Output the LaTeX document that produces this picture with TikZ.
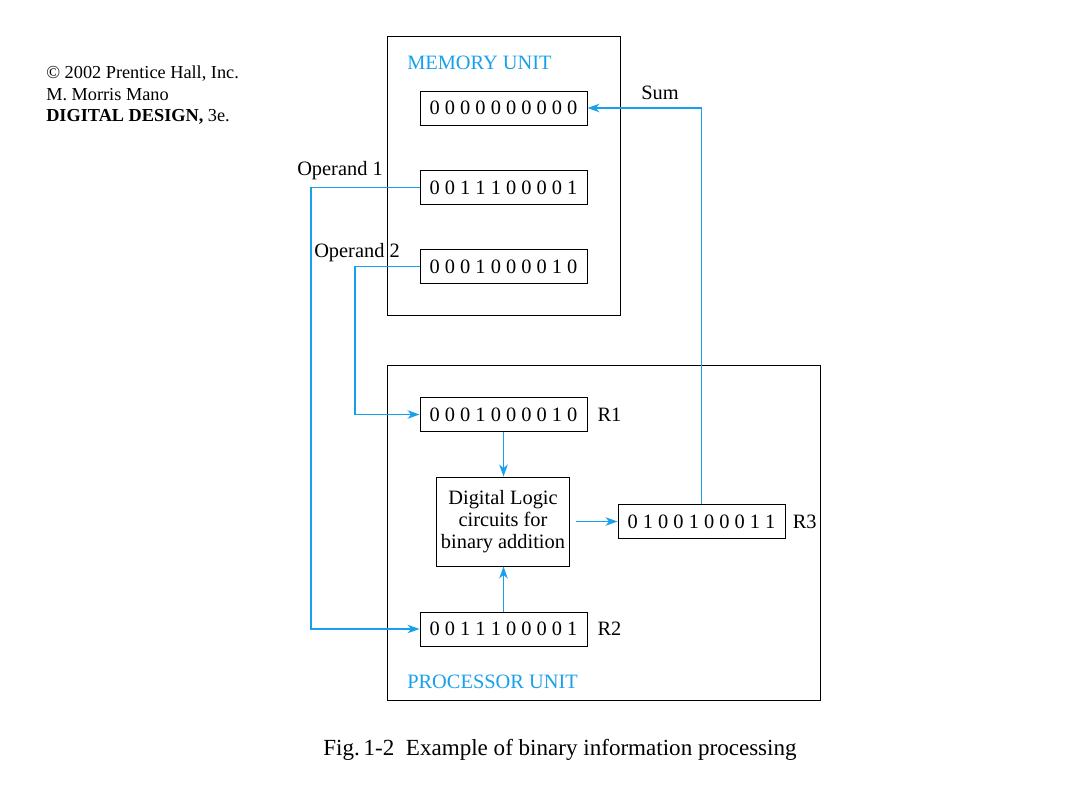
\documentclass[tikz,border=0pt]{standalone}
\usepackage{fontspec}
\setmainfont{Liberation Serif}
\usetikzlibrary{arrows.meta,positioning,calc}
\definecolor{manoBlue}{RGB}{25,160,235}

\begin{document}
\begin{tikzpicture}[x=0.025cm,y=-0.025cm,
    font=\fontsize{14.5}{17}\selectfont,
    unitbox/.style={draw,line width=0.8pt,inner sep=0pt,anchor=north west},
    unitlabel/.style={manoBlue,anchor=west,inner sep=0pt},
    word/.style={draw,line width=0.65pt,minimum width=4.175cm,
                 minimum height=0.85cm,inner sep=0pt},
    reglabel/.style={inner sep=0pt},
    link/.style={manoBlue,line width=0.85pt,
                 -{Stealth[length=8.5pt,width=6pt,inset=2.5pt]}}]
  \useasboundingbox (0,0) rectangle (1080,810);

  % Copyright
  \node[anchor=north west,align=left,inner sep=0pt,
        font=\fontsize{13}{15.3}\selectfont] (copy) at (46,66)
    {\textcopyright{} 2002 Prentice Hall, Inc.\\
     M. Morris Mano\\
     \textbf{DIGITAL DESIGN,} 3e.};

  % Memory unit
  \node[unitbox,minimum width=5.825cm,minimum height=6.975cm] (mem) at (387,36) {};
  \node[unitlabel] (memlab) at (407,63) {MEMORY UNIT};
  \node[word] (w0) at (503.5,108) {0 0 0 0 0 0 0 0 0 0};
  \node[word] (w1) at (503.5,187.5) {0 0 1 1 1 0 0 0 0 1};
  \node[word] (w2) at (503.5,266.5) {0 0 0 1 0 0 0 0 1 0};

  % Processor unit
  \node[unitbox,minimum width=10.825cm,minimum height=8.375cm] (proc) at (387,365) {};
  \node[unitlabel] (proclab) at (407,682) {PROCESSOR UNIT};
  \node[word] (r1) at (503.5,414.5) {0 0 0 1 0 0 0 0 1 0};
  \node[word] (r2) at (503.5,629) {0 0 1 1 1 0 0 0 0 1};
  \node[word] (r3) at (701.5,521.5) {0 1 0 0 1 0 0 0 1 1};
  \node[draw,line width=0.65pt,minimum width=3.325cm,minimum height=2.225cm,
        align=center,inner sep=0pt,font=\fontsize{14.5}{15.5}\selectfont] (logic)
    at (503,521.5) {Digital Logic\\circuits for\\binary addition};
  \node[reglabel,right=7pt of r1] (r1lab) {R1};
  \node[reglabel,right=7pt of r2] (r2lab) {R2};
  \node[reglabel,right=5pt of r3] (r3lab) {R3};

  % Transfers
  \coordinate (c1) at (311,187.5);
  \coordinate (c2) at (355,266.5);
  \draw[link] (w1.west) -- (c1) |- (r2.west);
  \draw[link] (w2.west) -- (c2) |- (r1.west);
  \draw[link] (r1.south) -- (r1.south |- logic.north);
  \draw[link] (r2.north) -- (r2.north |- logic.south);
  \draw[link,shorten <=4pt] (logic.east) -- (r3.west);
  \draw[link] (r3.north) |- (w0.east);

  \node[inner sep=0pt] (op1) at (340,171) {Operand 1};
  \node[inner sep=0pt] (op2) at (357,253) {Operand 2};
  \node[inner sep=0pt] (sum) at (660,93) {Sum};

  % Legenda
  \node[inner sep=0pt,font=\fontsize{16.4}{19}\selectfont] (cap) at (560,750)
    {Fig.\,1-2\ \ Example of binary information processing};
\end{tikzpicture}
\end{document}
